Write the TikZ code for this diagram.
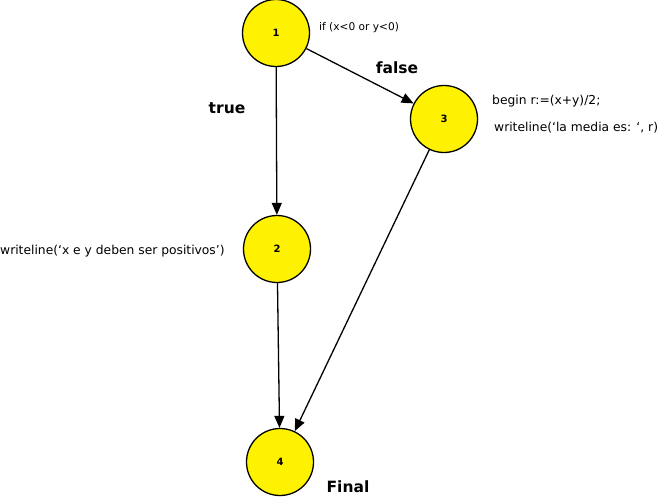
\documentclass[tikz,border=0pt]{standalone}
\usepackage{fontspec}
\setmainfont{DejaVu Sans}
\usetikzlibrary{arrows.meta}
\tikzset{>/.tip={Triangle[length=12pt,width=10pt]},
  blk/.style={circle, draw, line width=1.3pt, fill=yellow, minimum size=67pt, inner sep=0pt, font=\fontsize{10}{11}\selectfont\bfseries},
  cod/.style={anchor=west, inner sep=0pt, font=\fontsize{12.3}{14}\selectfont},
  lbl/.style={inner sep=0pt, font=\fontsize{15.5}{17}\selectfont\bfseries}}

\begin{document}
\begin{tikzpicture}[x=1pt, y=-1pt]
\useasboundingbox (0,0) rectangle (668,497);
\node[blk] (n1) at (276,33)  {1};
\node[blk] (n3) at (444,119) {3};
\node[blk] (n2) at (277,249) {2};
\node[blk] (n4) at (280,462) {4};

\node[cod, font=\fontsize{10.6}{12}\selectfont] (c1) at (319,28) {if (x<0 or y<0)};
\node[cod] (c3a) at (492,101) {begin r:=(x+y)/2;};
\node[cod] (c3b) at (494,128) {writeline(‘la media es: ‘, r)};
\node[cod] (c2) at (0,251)   {writeline(‘x e y deben ser positivos’)};

\node[lbl] (t) at (227,108) {true};
\node[lbl] (f) at (397,68)  {false};
\node[lbl] (e) at (348,487) {Final};

\draw[->, line width=1.3pt] (n1) to (n3);
\draw[->, line width=1.3pt] (n1) to (n2);
\draw[->, line width=1.3pt] (n2) to (n4);
\draw[->, line width=1.3pt] (n3) to (n4);
\end{tikzpicture}
\end{document}
